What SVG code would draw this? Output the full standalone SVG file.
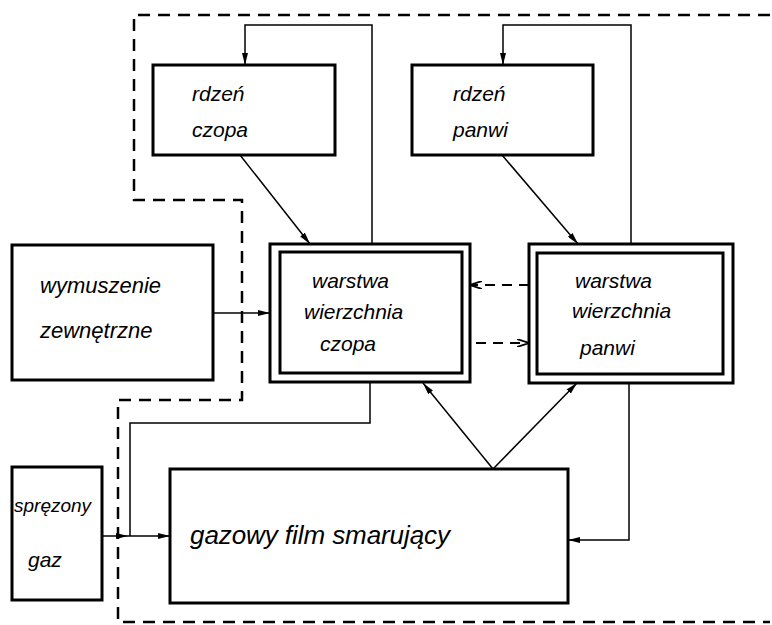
<svg xmlns="http://www.w3.org/2000/svg" width="772" height="625" viewBox="0 0 772 625">
<defs>
<marker id="ah" viewBox="0 0 12 6" refX="12" refY="3" markerWidth="12" markerHeight="6" markerUnits="userSpaceOnUse" orient="auto">
<path d="M0,0 L12,3 L0,6 Z" fill="#000"/>
</marker>
<marker id="ao" viewBox="0 0 12 8" refX="12" refY="4" markerWidth="12" markerHeight="8" markerUnits="userSpaceOnUse" orient="auto">
<path d="M0,0 L12,4 L0,8" fill="none" stroke="#000" stroke-width="1.8"/>
</marker>
</defs>
<style>
.box{fill:#fff;stroke:#000;stroke-width:3}
.c{fill:none;stroke:#000;stroke-width:1.5}
.d{fill:none;stroke:#000;stroke-width:2.5;stroke-dasharray:12 8}
.da{fill:none;stroke:#000;stroke-width:2;stroke-dasharray:10 7}
text{font-family:"Liberation Sans","DejaVu Sans",sans-serif;font-style:italic;font-size:21px;fill:#000}
text.m{font-size:22px}
text.s{font-size:19px}
text.l{font-size:26px}
</style>
<rect width="772" height="625" fill="#fff"/>
<g id="connectors">
<path class="d" d="M770,15 H134 V200 H242 V400 H118 V622 H770"/>
<path class="c" d="M372,244 V25 H245 V65" marker-end="url(#ah)"/>
<path class="c" d="M631,244 V25 H503 V65" marker-end="url(#ah)"/>
<path class="c" d="M240,155 L310,244" marker-end="url(#ah)"/>
<path class="c" d="M502,155 L578,244" marker-end="url(#ah)"/>
<path class="c" d="M213,313 H270" marker-end="url(#ah)"/>
<path class="da" d="M529,285 H470" marker-end="url(#ao)"/>
<path class="da" d="M476,343 H529" marker-end="url(#ao)"/>
<path class="c" d="M493,469 L423,383" marker-end="url(#ah)"/>
<path class="c" d="M493,469 L577,383" marker-end="url(#ah)"/>
<path class="c" d="M629,383 V540 H568" marker-end="url(#ah)"/>
<path class="c" d="M370,382 V423 H130 V536"/>
<path class="c" d="M102,536 H128" marker-end="url(#ah)"/>
<path class="c" d="M128,536 H170" marker-end="url(#ah)"/>
</g>
<g id="rdzen-czopa">
<rect class="box" x="153" y="65" width="182" height="90"/>
<text x="192" y="101">rdzeń</text>
<text x="192" y="137">czopa</text>
</g>
<g id="rdzen-panwi">
<rect class="box" x="412" y="65" width="181" height="90"/>
<text x="453" y="101">rdzeń</text>
<text x="453" y="137">panwi</text>
</g>
<g id="wymuszenie">
<rect class="box" x="12" y="245" width="201" height="135"/>
<text class="m" x="40" y="293">wymuszenie</text>
<text class="m" x="40" y="338">zewnętrzne</text>
</g>
<g id="warstwa-czopa">
<rect class="box" x="270" y="244" width="200" height="138"/>
<rect class="box" x="280" y="252" width="182" height="121"/>
<text x="312" y="288">warstwa</text>
<text x="304" y="319">wierzchnia</text>
<text x="320" y="351">czopa</text>
</g>
<g id="warstwa-panwi">
<rect class="box" x="529" y="244" width="204" height="139"/>
<rect class="box" x="537" y="253" width="186" height="121"/>
<text x="575" y="288">warstwa</text>
<text x="572" y="318">wierzchnia</text>
<text x="580" y="355">panwi</text>
</g>
<g id="sprezony-gaz">
<rect class="box" x="12" y="467" width="90" height="133"/>
<text class="s" x="14" y="512">spręzony</text>
<text x="28" y="567">gaz</text>
</g>
<g id="gazowy-film">
<rect class="box" x="170" y="469" width="398" height="134"/>
<text class="l" x="190" y="544" textLength="260" lengthAdjust="spacing">gazowy film smarujący</text>
</g>
</svg>
